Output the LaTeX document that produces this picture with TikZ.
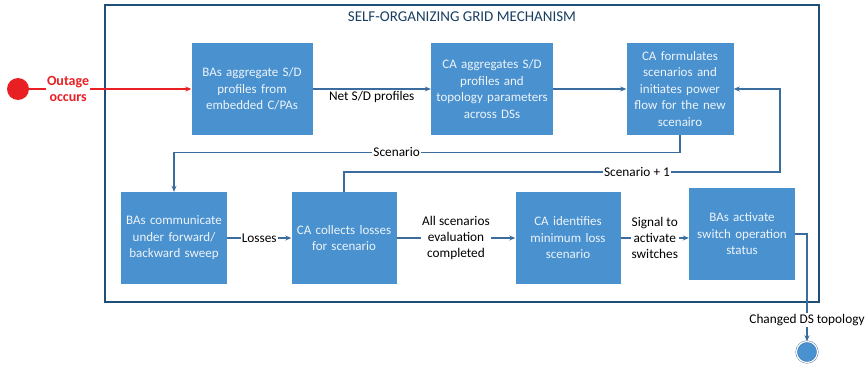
\documentclass[tikz,border=0pt]{standalone}
\usepackage{fontspec}
\setmainfont{Carlito}
\usepackage{tikz}
\usetikzlibrary{positioning,arrows.meta}
\definecolor{procblue}{RGB}{74,145,207}
\definecolor{linkblue}{RGB}{58,108,158}
\definecolor{frameblue}{RGB}{31,78,121}
\definecolor{outred}{RGB}{232,32,36}
\tikzset{proc/.style={fill=procblue,text=white!90!procblue,minimum
height=92pt,inner sep=0pt,align=center,font=\fontsize{13}{16.5}\selectfont},lbl/.style={fill=white,inner
sep=1pt,align=center,text=black,font=\fontsize{13.3}{16}\selectfont}}
\tikzstyle{flow}      = [line width=1.2pt, draw=linkblue, -{Stealth[length=6pt,width=5pt]}]
\tikzstyle{frame}     = [line width=2.5pt, draw=frameblue]
\tikzstyle{dot}       = [circle, minimum size=22pt, inner sep=0pt]

\begin{document}
\begin{tikzpicture}[x=1pt,y=-1pt]
		\useasboundingbox (0,0) rectangle (867,366);
		\draw[frame] (105,5) rectangle (819,302);
		\node[font=\fontsize{15}{17}\selectfont, text=frameblue!80!black] (title) at (462,17) {SELF-ORGANIZING GRID MECHANISM};
		% top row
		\node[proc, text width=121pt] (aggr) at (252,89) {BAs aggregate S/D\\profiles from\\embedded C/PAs};
		\node[proc, text width=122pt] (topo) at (492,89) {CA aggregates S/D\\profiles and\\topology parameters\\across DSs};
		\node[proc, text width=107pt] (form) at (680,89) {CA formulates\\scenarios and\\initiates power\\flow for the new\\scenairo};
		% bottom row
		\node[proc, text width=106pt] (sweep) at (174,238) {BAs communicate\\under forward/\\backward sweep};
		\node[proc, text width=105pt] (loss) at (344,238) {CA collects losses\\for scenario};
		\node[proc, text width=105pt] (mini) at (568,238) {CA identifies\\minimum loss\\scenario};
		\node[proc, text width=106pt] (act) at (742,234) {BAs activate\\switch operation\\status};
		% start and end
		\node[dot, fill=outred] (outage) at (18,89) {};
		\node[dot, fill=procblue, draw=linkblue, double, double distance=1.2pt, minimum size=21pt] (done) at (807,352) {};
		\coordinate (back) at (780,172);
		% connectors
		\draw[flow, draw=outred] (outage) -- node[lbl, text=outred, font=\bfseries\fontsize{14}{15.5}\selectfont, pos=0.24] {Outage\\occurs} (aggr);
		\draw[flow] (aggr) -- node[below, lbl, yshift=-1pt] {Net S/D profiles} (topo);
		\draw[flow] (topo) -- (form);
		\draw[flow] (form.south) -- ++(0,17) -| node[lbl, pos=0.28] {Scenario} (sweep.north);
		\draw[flow] (sweep) -- node[lbl] {Losses} (loss);
		\draw[flow] (loss.north) |- node[lbl, pos=0.836] {Scenario + 1} (back) |- (form.east);
		\draw[flow] (loss) -- node[lbl] {All scenarios\\evaluation\\completed} (mini);
		\draw[flow] (mini.east) -- node[lbl] {Signal to\\activate\\switches} (mini.east -| act.west);
		\draw[flow] (act.east) -| node[lbl, pos=0.9] {Changed DS topology} (done);
	\end{tikzpicture}
\end{document}
